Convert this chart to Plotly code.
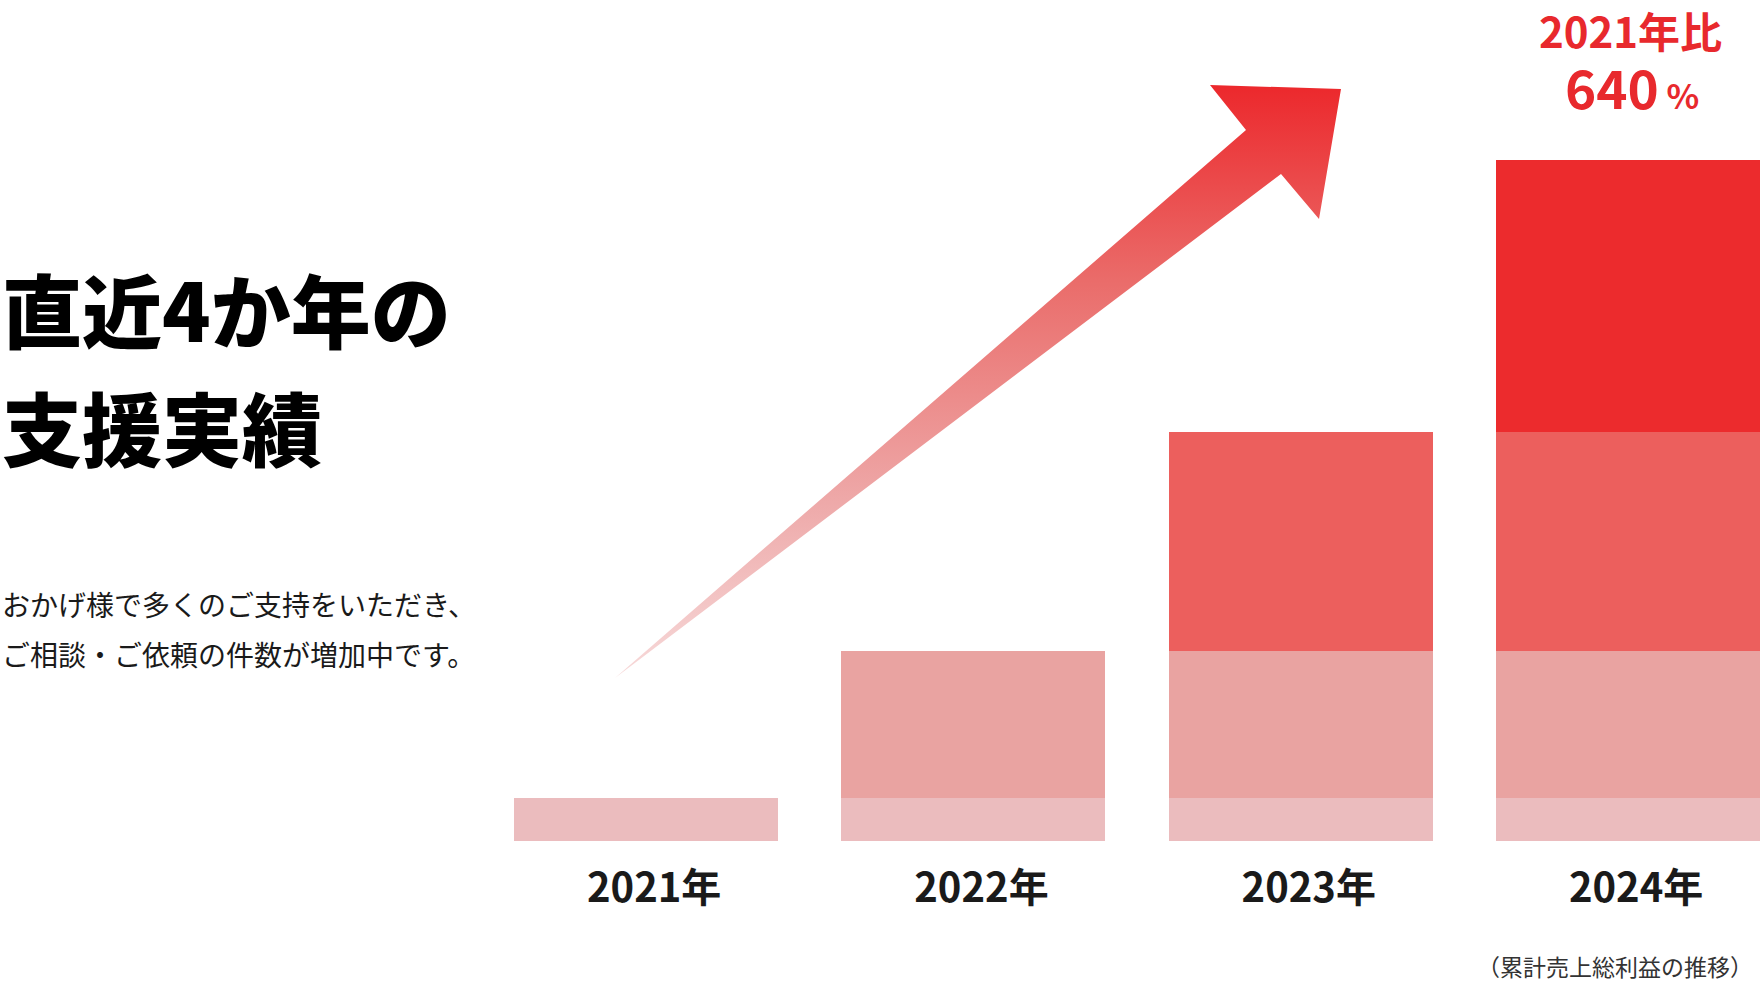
import plotly.graph_objects as go

# ---- data ----
years = ["2021年", "2022年", "2023年", "2024年"]
year_pos = [0, 1, 2, 3]
# annual gross profit index (2021 = 100), stacked cumulatively
layer_names = ["2021", "2022", "2023", "2024"]
layer_values = [
    [100, 100, 100, 100],
    [0, 342, 342, 342],
    [0, 0, 509, 509],
    [0, 0, 0, 633],
]
layer_colors = ["#EBBCBE", "#E9A3A1", "#EC5F5D", "#EC2B2D"]

title_lines = ["直近4か年の", "支援実績"]
sub_lines = ["おかげ様で多くのご支持をいただき、", "ご相談・ご依頼の件数が増加中です。"]
badge_top = "2021年比"
badge_value = "640"
footnote = "（累計売上総利益の推移）"

W, H = 1760, 986
JP = "Noto Sans CJK JP"

fig = go.Figure()

for name, vals, col in zip(layer_names, layer_values, layer_colors):
    fig.add_trace(go.Bar(
        x=year_pos, y=vals, name=name, marker=dict(color=col, line=dict(width=0)),
        width=0.8066, hoverinfo="skip", showlegend=False,
    ))

# decorative arrow (pixel coordinates on a full-page overlay axis pair)
ax = [615, 1281, 1319, 1341, 1210, 1246, 615]
ay = [678, 174, 219, 89, 85, 130, 678]
fig.add_trace(go.Scatter(
    x=ax, y=ay, xaxis="x2", yaxis="y2", mode="lines", fill="toself",
    line=dict(width=0, color="rgba(0,0,0,0)"),
    fillgradient=dict(
        type="vertical", start=85, stop=678,
        colorscale=[[0, "rgb(236,40,44)"], [0.33, "rgb(234,108,106)"],
                    [0.71, "rgb(238,170,170)"], [1, "rgb(247,218,218)"]],
    ),
    hoverinfo="skip", showlegend=False,
))

ann = []
for txt, yc in zip(title_lines, [307, 425]):
    ann.append(dict(text=txt, x=0, y=yc, xref="x2", yref="y2", xanchor="left", yanchor="middle",
                    showarrow=False, font=dict(family=JP, size=80, weight=900, color="#000000")))
for txt, yc in zip(sub_lines, [604, 654]):
    ann.append(dict(text=txt, x=0, y=yc, xref="x2", yref="y2", xanchor="left", yanchor="middle",
                    showarrow=False, font=dict(family=JP, size=28, weight=400, color="#1a1a1a")))
ann.append(dict(text=badge_top, x=1630, y=29, xref="x2", yref="y2", xanchor="center", yanchor="middle",
                showarrow=False, font=dict(family=JP, size=42, weight=700, color="#E8292D")))
ann.append(dict(text=badge_value + "<span style='font-size:34px'> %</span>", x=1632, y=86,
                xref="x2", yref="y2", xanchor="center", yanchor="middle",
                showarrow=False, font=dict(family=JP, size=53, weight=700, color="#E8292D")))
ann.append(dict(text=footnote, x=1615, y=966, xref="x2", yref="y2", xanchor="center", yanchor="middle",
                showarrow=False, font=dict(family=JP, size=23, weight=400, color="#333333")))

fig.update_layout(
    width=W, height=H, margin=dict(l=0, r=0, t=0, b=0),
    paper_bgcolor="white", plot_bgcolor="rgba(0,0,0,0)",
    barmode="stack", bargap=0,
    xaxis=dict(domain=[0, 1], range=[-1.974, 3.403], tickmode="array", tickvals=year_pos,
               ticktext=years, showgrid=False, zeroline=False, showline=False, ticks="",
               tickfont=dict(family=JP, size=40, weight=700, color="#1a1a1a"),
               ticklabelstandoff=20, ticklabelshift=8, fixedrange=True),
    yaxis=dict(domain=[145 / 986, 1], range=[0, 841 / 0.43], showgrid=False, zeroline=False,
               showline=False, showticklabels=False, ticks="", fixedrange=True),
    xaxis2=dict(domain=[0, 1], range=[0, W], anchor="y2", visible=False, fixedrange=True),
    yaxis2=dict(domain=[0, 1], range=[H, 0], anchor="x2", visible=False, fixedrange=True),
    annotations=ann,
)

fig.write_html(
    "out.html",
    config={"displayModeBar": False},
    post_script="document.body.style.margin='0';document.body.style.overflow='hidden';",
)
